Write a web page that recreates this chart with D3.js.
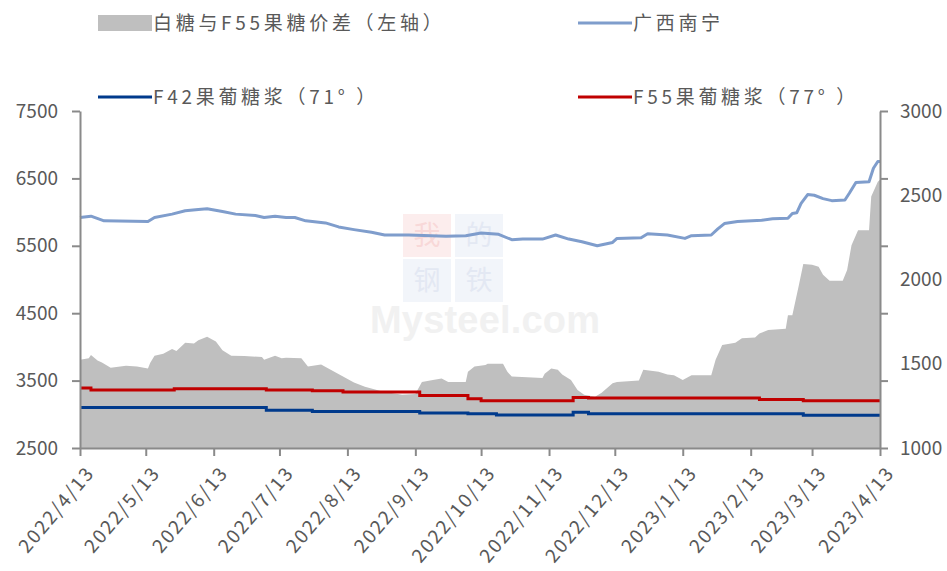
<!DOCTYPE html>
<html>
<head>
<meta charset="utf-8">
<script src="https://cdn.jsdelivr.net/npm/d3@7"></script>
<style>
  body { margin: 0; background: #fff; }
  text { font-family: "Noto Sans CJK SC", "Noto Sans", sans-serif; fill: #595959; }
</style>
</head>
<body>
<div id="chart"></div>
<script>
const width = 947, height = 571;
const margin = {top: 111, right: 67, bottom: 123, left: 80};

// 广西南宁 white sugar price
const nanningDates = ["2022-04-13","2022-04-18","2022-04-24","2022-05-14","2022-05-17","2022-05-25","2022-05-31","2022-06-06","2022-06-10","2022-06-17","2022-06-23","2022-07-02","2022-07-06","2022-07-11","2022-07-16","2022-07-20","2022-07-25","2022-08-03","2022-08-09","2022-08-16","2022-08-24","2022-08-30","2022-09-10","2022-09-27","2022-10-06","2022-10-13","2022-10-21","2022-10-27","2022-11-01","2022-11-10","2022-11-16","2022-11-22","2022-11-28","2022-12-05","2022-12-12","2022-12-14","2022-12-25","2022-12-28","2023-01-06","2023-01-14","2023-01-17","2023-01-26","2023-01-29","2023-02-01","2023-02-07","2023-02-18","2023-02-23","2023-03-02","2023-03-04","2023-03-06","2023-03-08","2023-03-11","2023-03-14","2023-03-18","2023-03-22","2023-03-28","2023-03-30","2023-04-02","2023-04-08","2023-04-10","2023-04-12","2023-04-13"];
const nanningPrice = [5920,5940,5870,5860,5920,5970,6020,6040,6050,6010,5970,5950,5920,5940,5920,5920,5870,5840,5780,5740,5700,5660,5660,5640,5650,5690,5670,5590,5600,5600,5660,5600,5560,5500,5550,5610,5620,5680,5660,5610,5650,5660,5750,5830,5860,5880,5900,5910,5980,5990,6130,6260,6250,6200,6170,6180,6280,6440,6450,6650,6750,6750];

// 白糖与F55果糖价差
const spreadDates = ["2022-04-13","2022-04-17","2022-04-18","2022-04-21","2022-04-23","2022-04-27","2022-05-04","2022-05-09","2022-05-14","2022-05-15","2022-05-17","2022-05-21","2022-05-25","2022-05-27","2022-05-31","2022-06-04","2022-06-06","2022-06-10","2022-06-14","2022-06-17","2022-06-21","2022-06-27","2022-07-05","2022-07-06","2022-07-11","2022-07-14","2022-07-16","2022-07-23","2022-07-26","2022-08-01","2022-08-06","2022-08-11","2022-08-16","2022-08-21","2022-08-29","2022-09-07","2022-09-13","2022-09-16","2022-09-21","2022-09-25","2022-09-28","2022-10-06","2022-10-07","2022-10-10","2022-10-15","2022-10-16","2022-10-23","2022-10-25","2022-10-27","2022-11-10","2022-11-11","2022-11-14","2022-11-17","2022-11-19","2022-11-23","2022-11-26","2022-11-29","2022-12-04","2022-12-07","2022-12-12","2022-12-14","2022-12-24","2022-12-26","2023-01-02","2023-01-06","2023-01-09","2023-01-13","2023-01-17","2023-01-26","2023-01-28","2023-01-31","2023-02-06","2023-02-09","2023-02-15","2023-02-17","2023-02-21","2023-03-01","2023-03-02","2023-03-04","2023-03-07","2023-03-09","2023-03-13","2023-03-16","2023-03-18","2023-03-21","2023-03-27","2023-03-29","2023-03-31","2023-04-03","2023-04-08","2023-04-09","2023-04-12","2023-04-13"];
const spreadValue = [3810,3830,3880,3800,3770,3690,3720,3710,3680,3760,3870,3900,3970,3940,4060,4050,4100,4150,4080,3950,3870,3865,3850,3810,3870,3830,3840,3830,3710,3740,3650,3560,3470,3410,3340,3290,3300,3480,3510,3530,3480,3480,3630,3710,3730,3750,3750,3630,3560,3540,3600,3680,3660,3590,3510,3360,3290,3260,3320,3460,3480,3500,3660,3630,3590,3580,3510,3580,3580,3810,4030,4060,4130,4140,4200,4250,4270,4470,4470,4920,5230,5220,5190,5070,4980,4980,5140,5510,5730,5730,6230,6450,6480];

// F42果葡糖浆（71°）, price changes
const f42Dates = ["2022-04-13","2022-07-07","2022-07-28","2022-09-15","2022-10-07","2022-10-20","2022-11-24","2022-12-01","2023-03-09","2023-04-13"];
const f42Price = [3100,3060,3040,3020,3010,2990,3030,3010,2985,2985];

// F55果葡糖浆（77°）, price changes
const f55Dates = ["2022-04-13","2022-04-18","2022-05-26","2022-07-07","2022-07-28","2022-08-11","2022-09-15","2022-10-07","2022-10-13","2022-11-24","2022-12-01","2023-02-17","2023-03-09","2023-04-13"];
const f55Price = [3390,3360,3380,3360,3350,3330,3280,3230,3200,3250,3240,3220,3200,3200];

const leftTicks = [2500,3500,4500,5500,6500,7500];
const rightTicks = [1000,1500,2000,2500,3000];
const monthTicks = ["2022-04-13","2022-05-13","2022-06-13","2022-07-13","2022-08-13","2022-09-13","2022-10-13","2022-11-13","2022-12-13","2023-01-13","2023-02-13","2023-03-13","2023-04-13"];

const parse = d3.timeParse("%Y-%m-%d");
const zip = (ds, vs) => ds.map((d, i) => ({date: parse(d), value: vs[i]}));

const nanning = zip(nanningDates, nanningPrice);
const spread = zip(spreadDates, spreadValue);
const f42 = zip(f42Dates, f42Price);
const f55 = zip(f55Dates, f55Price);

const x = d3.scaleTime()
  .domain([parse("2022-04-13"), parse("2023-04-13")])
  .range([margin.left, width - margin.right]);
const yLeft = d3.scaleLinear().domain([2500, 7500]).range([height - margin.bottom, margin.top]);
const yRight = d3.scaleLinear().domain([1000, 3000]).range([height - margin.bottom, margin.top]);

const svg = d3.select("#chart").append("svg")
  .attr("width", width).attr("height", height);

// watermark
const wm = svg.append("g").attr("opacity", 0.55);
const wmCells = [["我", 403, 214, "#fbe0e0", "#f3b9b9"], ["的", 455, 214, "#e8edf6", "#cdd6ea"],
                 ["钢", 403, 259, "#e8edf6", "#cdd6ea"], ["铁", 455, 259, "#e8edf6", "#cdd6ea"]];
wmCells.forEach(c => {
  wm.append("rect").attr("x", c[1]).attr("y", c[2]).attr("width", 48).attr("height", 43).attr("fill", c[3]);
  wm.append("text").attr("x", c[1] + 24).attr("y", c[2] + 31).attr("text-anchor", "middle")
    .style("font-size", "27px").style("fill", c[4]).text(c[0]);
});
wm.append("text").attr("x", 370).attr("y", 333).attr("textLength", 230)
  .style("font-family", "'Liberation Sans', Arial, sans-serif").style("font-weight", "bold")
  .style("font-size", "38px").style("fill", "#e6e6e6").text("Mysteel.com");

// spread area
const area = d3.area()
  .x(d => x(d.date))
  .y0(yLeft(2500))
  .y1(d => yLeft(d.value));
svg.append("path").datum(spread).attr("d", area).attr("fill", "#bfbfbf");

const line = d3.line().x(d => x(d.date)).y(d => yLeft(d.value));
const stepLine = d3.line().x(d => x(d.date)).y(d => yLeft(d.value)).curve(d3.curveStepAfter);

svg.append("path").datum(nanning).attr("d", line)
  .attr("fill", "none").attr("stroke", "#7f9dcc").attr("stroke-width", 3).attr("stroke-linejoin", "round");
svg.append("path").datum(f55).attr("d", stepLine)
  .attr("fill", "none").attr("stroke", "#c00000").attr("stroke-width", 3);
svg.append("path").datum(f42).attr("d", stepLine)
  .attr("fill", "none").attr("stroke", "#003a8c").attr("stroke-width", 3);

// axes
const axisColor = "#8a8a8a";
function styleAxis(g) {
  g.selectAll(".domain, .tick line").attr("stroke", axisColor).attr("stroke-width", 2);
  g.selectAll("text").style("font-size", "19px").attr("fill", "#595959");
}

svg.append("g")
  .attr("transform", `translate(${margin.left},0)`)
  .call(d3.axisLeft(yLeft).tickValues(leftTicks).tickSize(8).tickSizeOuter(0).tickPadding(14).tickFormat(d3.format("d")))
  .call(styleAxis);

svg.append("g")
  .attr("transform", `translate(${width - margin.right},0)`)
  .call(d3.axisRight(yLeft).tickValues(leftTicks).tickSize(8).tickSizeOuter(0).tickFormat(""))
  .call(styleAxis);

svg.append("g")
  .attr("transform", `translate(${width - margin.right},0)`)
  .call(d3.axisRight(yRight).tickValues(rightTicks).tickSize(0).tickPadding(20).tickFormat(d3.format("d")))
  .call(g => g.select(".domain").remove())
  .call(styleAxis);

const fmt = d3.timeFormat("%Y/%-m/%-d");
svg.append("g")
  .attr("transform", `translate(0,${height - margin.bottom})`)
  .call(d3.axisBottom(x).tickValues(monthTicks.map(parse)).tickSize(8).tickSizeOuter(0).tickFormat(fmt))
  .call(styleAxis)
  .call(g => g.selectAll("text")
    .attr("text-anchor", "end")
    .attr("y", 0)
    .attr("dy", "0.35em")
    .attr("transform", "translate(10,21) rotate(-50)")
    .style("letter-spacing", "1.9px"));

// legend
const legend = [
  {label: "白糖与F55果糖价差（左轴）", type: "rect", color: "#bfbfbf", x: 98, y: 23},
  {label: "广西南宁", type: "line", color: "#7f9dcc", x: 578, y: 23},
  {label: "F42果葡糖浆（71° ）", type: "line", color: "#003a8c", x: 98, y: 97},
  {label: "F55果葡糖浆（77° ）", type: "line", color: "#c00000", x: 578, y: 97}
];
const lg = svg.append("g").selectAll("g").data(legend).join("g")
  .attr("transform", d => `translate(${d.x},${d.y})`);
lg.filter(d => d.type === "rect").append("rect")
  .attr("x", 0).attr("y", -8).attr("width", 54).attr("height", 16).attr("fill", d => d.color);
lg.filter(d => d.type === "line").append("line")
  .attr("x1", 0).attr("x2", 54).attr("stroke", d => d.color).attr("stroke-width", 3);
lg.append("text")
  .attr("x", 55).attr("dy", "0.35em")
  .style("font-size", "19px").style("letter-spacing", "3.7px")
  .text(d => d.label);
</script>
</body>
</html>
